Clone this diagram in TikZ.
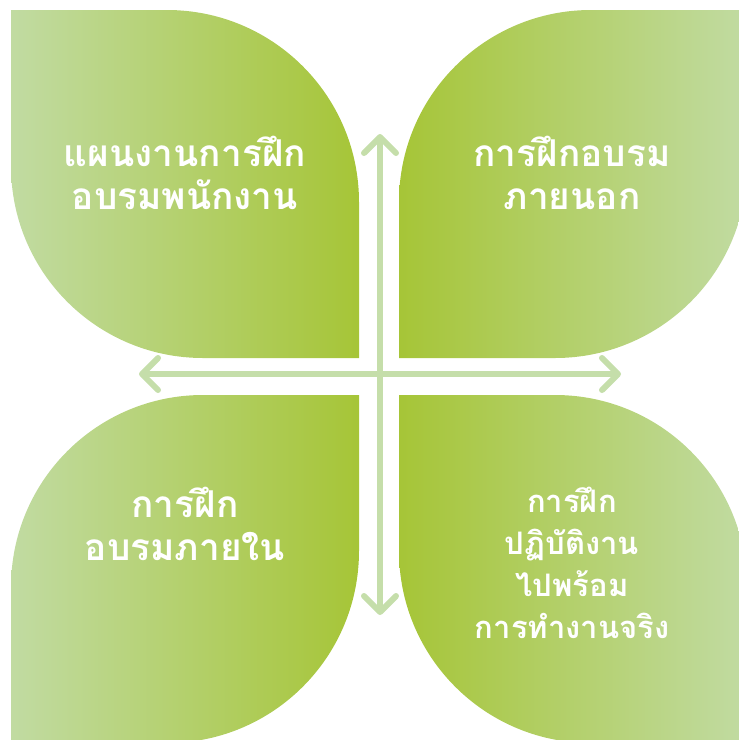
\documentclass[tikz,border=0pt]{standalone}
\usepackage{fontspec}
\newfontfamily\thaifont[Script=Thai]{Loma}
\usetikzlibrary{arrows.meta}
\definecolor{leaflight}{RGB}{193,219,162}
\definecolor{leafdark}{RGB}{166,197,55}
\definecolor{arrowgreen}{RGB}{197,222,170}
\tikzset{
  leaftext/.style={text=white, align=center, font=\thaifont\bfseries\fontsize{37}{43}\selectfont},
  leaftextsmall/.style={text=white, align=center, font=\thaifont\bfseries\fontsize{31}{42}\selectfont},
  ltr/.style={left color=leaflight, right color=leafdark, draw=none},
  rtl/.style={left color=leafdark, right color=leaflight, draw=none},
  crossarrow/.style={draw=arrowgreen, line width=6pt, line cap=round,
    arrows={Straight Barb[length=16pt,width=32pt,round]-Straight Barb[length=16pt,width=32pt,round]}}
}
\begin{document}
\begin{tikzpicture}[x=1pt,y=-1pt]
\useasboundingbox (0,0) rectangle (739,740);
\clip (0,0) rectangle (739,740);
% leaves
\path[ltr] (11,10) -- (167,10) arc[start angle=-90,end angle=0,radius=192]
  -- (359,358) -- (203,358) arc[start angle=90,end angle=180,radius=192] -- cycle;
\path[rtl] (399,358) -- (399,202) arc[start angle=180,end angle=270,radius=192]
  -- (747,10) -- (747,166) arc[start angle=0,end angle=90,radius=192] -- cycle;
\path[ltr] (11,743) -- (11,587) arc[start angle=180,end angle=270,radius=192]
  -- (359,395) -- (359,551) arc[start angle=0,end angle=90,radius=192] -- cycle;
\path[rtl] (399,395) -- (555,395) arc[start angle=-90,end angle=0,radius=192]
  -- (747,743) -- (591,743) arc[start angle=90,end angle=180,radius=192] -- cycle;
% arrows
\coordinate (W) at (139,374);
\coordinate (E) at (621,374);
\coordinate (N) at (380,134);
\coordinate (S) at (380,615);
\draw[crossarrow] (W) -- (E);
\draw[crossarrow] (N) -- (S);
% texts
\node[leaftext] (tl) at (185,173) {แผนงานการฝึก\\อบรมพนักงาน};
\node[leaftext] (tr) at (572,173) {การฝึกอบรม\\ภายนอก};
\node[leaftext] (bl) at (185,524) {การฝึก\\อบรมภายใน};
\node[leaftextsmall] (br) at (572,563) {การฝึก\\ปฏิบัติงาน\\ไปพร้อม\\การทำงานจริง};
\end{tikzpicture}
\end{document}
